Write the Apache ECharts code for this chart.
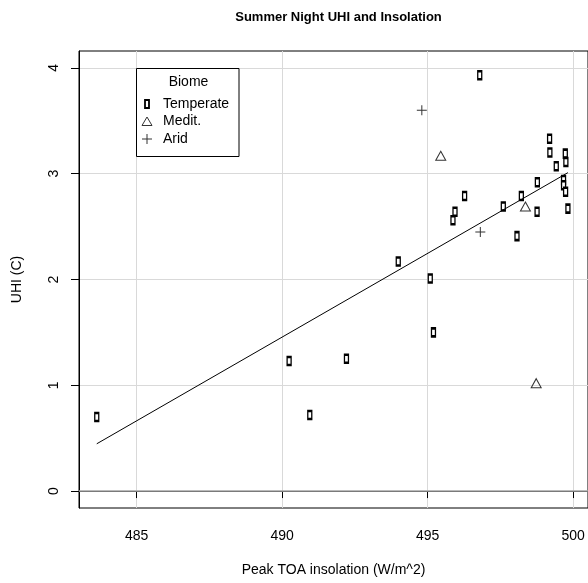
<!DOCTYPE html>
<html>
<head>
<meta charset="utf-8">
<script src="https://cdn.jsdelivr.net/npm/echarts@6/dist/echarts.min.js"></script>
<style>
  html, body { margin: 0; padding: 0; background: #fff; }
  #chart { width: 588px; height: 583px; }
</style>
</head>
<body>
<div id="chart"></div>
<script>
// values
const temperateX = [496.79, 499.19, 499.20, 499.73, 499.75, 499.42, 499.67, 499.67, 499.74, 498.77, 498.22, 497.60, 498.76, 499.82, 496.27, 495.94, 495.87, 498.07, 493.99, 495.09, 495.20, 483.63, 490.24, 492.21, 490.95]
const temperateY = [3.93, 3.33, 3.20, 3.19, 3.11, 3.07, 2.94, 2.89, 2.83, 2.92, 2.79, 2.69, 2.64, 2.67, 2.79, 2.64, 2.56, 2.41, 2.17, 2.01, 1.50, 0.70, 1.23, 1.25, 0.72]
const meditX = [495.45, 498.36, 498.73]
const meditY = [3.17, 2.69, 1.02]
const aridX = [494.80, 496.81]
const aridY = [3.60, 2.45]
const fitX = [483.63, 499.82]
const fitY = [0.447, 3.01]
const xTicks = [485, 490, 495, 500]
const yTicks = [0, 1, 2, 3, 4]
const biomes = ['Temperate', 'Medit.', 'Arid']

const FONT = 'Liberation Sans'
const zip = (xs, ys) => xs.map((x, i) => [x, ys[i]])

const myChart = echarts.init(document.getElementById('chart'), null, { renderer: 'canvas' })

const plusPath = 'path://M0,4.5H10V5.5H0ZM4.5,0H5.5V10H4.5Z'

const legendY = [104, 121.5, 139]
const legendGraphic = [
  {
    type: 'rect',
    shape: { x: 136.5, y: 68.5, width: 102.5, height: 88 },
    style: { fill: '#fff', stroke: '#000', lineWidth: 1 },
    z: 100
  },
  {
    type: 'text',
    x: 188.5, y: 82,
    style: { text: 'Biome', font: '14px "' + FONT + '"', fill: '#000', align: 'center', verticalAlign: 'middle' },
    z: 101
  },
  {
    type: 'rect',
    shape: { x: 145, y: legendY[0] - 4, width: 4, height: 8 },
    style: { fill: 'none', stroke: '#000', lineWidth: 1.8 },
    z: 101
  },
  {
    type: 'polygon',
    shape: { points: [[147, legendY[1] - 4.5], [152, legendY[1] + 4], [142, legendY[1] + 4]] },
    style: { fill: 'none', stroke: '#333', lineWidth: 1 },
    z: 101
  },
  {
    type: 'line',
    shape: { x1: 142, y1: legendY[2], x2: 152, y2: legendY[2] },
    style: { stroke: '#333', lineWidth: 1 },
    z: 101
  },
  {
    type: 'line',
    shape: { x1: 147, y1: legendY[2] - 5, x2: 147, y2: legendY[2] + 5 },
    style: { stroke: '#333', lineWidth: 1 },
    z: 101
  }
].concat(biomes.map((name, i) => ({
  type: 'text',
  x: 163, y: legendY[i],
  style: { text: name, font: '14px "' + FONT + '"', fill: '#000', align: 'left', verticalAlign: 'middle' },
  z: 101
})))

const option = {
  animation: false,
  backgroundColor: '#fff',
  textStyle: { fontFamily: FONT },
  title: {
    text: 'Summer Night UHI and Insolation',
    left: 333.5,
    textAlign: 'center',
    top: 6,
    textStyle: { fontFamily: FONT, fontWeight: 'bold', fontSize: 13, color: '#000' }
  },
  grid: {
    left: 79,
    top: 51,
    right: -1,
    bottom: 75,
    show: true,
    borderColor: '#000',
    borderWidth: 1,
    backgroundColor: '#fff'
  },
  xAxis: {
    type: 'value',
    min: 483.02,
    max: 500.51,
    name: 'Peak TOA insolation (W/m^2)',
    nameLocation: 'middle',
    nameGap: 55,
    nameTextStyle: { fontFamily: FONT, fontSize: 14, color: '#000' },
    axisLine: { show: true, lineStyle: { color: '#000', width: 1 } },
    axisTick: { show: true, customValues: xTicks, length: 7, lineStyle: { color: '#000' } },
    axisLabel: { customValues: xTicks, margin: 21, fontFamily: FONT, fontSize: 14, color: '#000' },
    splitLine: { show: true, lineStyle: { color: '#d9d9d9', width: 1 } }
  },
  yAxis: {
    type: 'value',
    min: -0.16,
    max: 4.16,
    name: 'UHI (C)',
    nameLocation: 'middle',
    nameGap: 55,
    nameRotate: 90,
    nameTextStyle: { fontFamily: FONT, fontSize: 14, color: '#000' },
    axisLine: { show: true, lineStyle: { color: '#000', width: 1 } },
    axisTick: { show: true, customValues: yTicks, length: 8, lineStyle: { color: '#000' } },
    axisLabel: { customValues: yTicks, rotate: 90, margin: 18, fontFamily: FONT, fontSize: 14, color: '#000' },
    splitLine: { show: true, lineStyle: { color: '#d9d9d9', width: 1 } }
  },
  graphic: legendGraphic,
  series: [
    {
      name: 'fit',
      type: 'line',
      data: zip(fitX, fitY),
      symbol: 'none',
      lineStyle: { color: '#000', width: 1 },
      z: 4,
      markLine: {
        silent: true,
        symbol: 'none',
        label: { show: false },
        lineStyle: { color: '#a3a3a3', width: 1.5, type: 'solid' },
        data: [{ yAxis: 0 }],
        z: 1
      }
    },
    {
      name: 'Temperate',
      type: 'scatter',
      data: zip(temperateX, temperateY),
      symbol: 'rect',
      symbolSize: [4, 8],
      itemStyle: { color: '#fff', borderColor: '#000', borderWidth: 1.8, opacity: 1 },
      z: 3
    },
    {
      name: 'Medit.',
      type: 'scatter',
      data: zip(meditX, meditY),
      symbol: 'triangle',
      symbolSize: [10, 9],
      itemStyle: { color: 'rgba(0,0,0,0)', borderColor: '#333', borderWidth: 1, opacity: 1 },
      z: 3
    },
    {
      name: 'Arid',
      type: 'scatter',
      data: zip(aridX, aridY),
      symbol: plusPath,
      symbolSize: 10,
      itemStyle: { color: '#333', opacity: 1 },
      z: 3
    }
  ]
}

option && myChart.setOption(option)
</script>
</body>
</html>
